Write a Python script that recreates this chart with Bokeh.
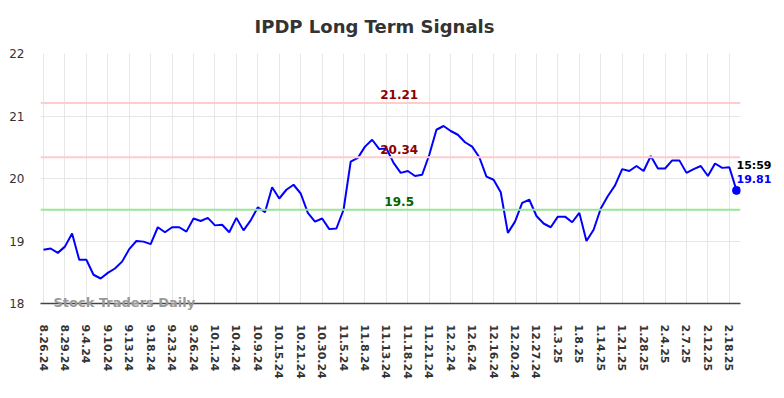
from bokeh.plotting import figure
from bokeh.models import FixedTicker, Label, Range1d, Span
from bokeh.core.properties import value
from bokeh.embed import file_html
from bokeh.resources import INLINE

# ---- data ----
values = [
    18.86, 18.88, 18.81, 18.91, 19.12, 18.70, 18.70, 18.46, 18.40, 18.49,
    18.56, 18.67, 18.87, 19.00, 18.99, 18.95, 19.22, 19.14, 19.22, 19.22,
    19.15, 19.36, 19.32, 19.37, 19.25, 19.26, 19.14, 19.37, 19.17, 19.33,
    19.54, 19.46, 19.86, 19.68, 19.82, 19.90, 19.76, 19.45, 19.31, 19.36,
    19.19, 19.20, 19.50, 20.27, 20.33, 20.51, 20.62, 20.47, 20.48, 20.25,
    20.09, 20.12, 20.04, 20.06, 20.38, 20.78, 20.84, 20.76, 20.70, 20.58,
    20.51, 20.34, 20.03, 19.98, 19.78, 19.13, 19.31, 19.61, 19.66, 19.40,
    19.28, 19.22, 19.39, 19.39, 19.30, 19.45, 19.00, 19.18, 19.52, 19.72,
    19.89, 20.15, 20.12, 20.20, 20.12, 20.36, 20.16, 20.16, 20.29, 20.29,
    20.09, 20.15, 20.20, 20.04, 20.24, 20.17, 20.18, 19.81,
]
tick_labels = [
    "8.26.24", "8.29.24", "9.4.24", "9.10.24", "9.13.24", "9.18.24", "9.23.24",
    "9.26.24", "10.1.24", "10.4.24", "10.9.24", "10.15.24", "10.21.24",
    "10.30.24", "11.5.24", "11.8.24", "11.13.24", "11.18.24", "11.21.24",
    "12.2.24", "12.6.24", "12.16.24", "12.20.24", "12.27.24", "1.3.25",
    "1.8.25", "1.14.25", "1.21.25", "1.28.25", "2.4.25", "2.7.25", "2.12.25",
    "2.18.25",
]
tick_step = 3
levels = [21.21, 20.34, 19.5]
level_labels = ["21.21", "20.34", "19.5"]
last_time = "15:59"
title_text = "IPDP Long Term Signals"
watermark = "Stock Traders Daily"

xs = list(range(len(values)))
tick_pos = [i * tick_step for i in range(len(tick_labels))]

p = figure(width=784, height=398, output_backend="svg", toolbar_location=None,
           x_range=Range1d(-0.42, len(values) - 1 + 0.56), y_range=Range1d(18, 22),
           min_border_left=40, min_border_right=44, min_border_top=53,
           min_border_bottom=95, title=title_text)
p.outline_line_color = None
p.background_fill_color = "white"
p.border_fill_color = "white"

p.title.text_font = "DejaVu Sans"
p.title.text_font_size = "18px"
p.title.text_font_style = "bold"
p.title.text_color = "#333333"
p.title.align = "left"
p.title.offset = 214
p.title.standoff = 30
p.title.vertical_align = "top"

# axes
p.xaxis.ticker = FixedTicker(ticks=tick_pos)
p.xaxis.major_label_overrides = {t: l for t, l in zip(tick_pos, tick_labels)}
p.xaxis.major_label_orientation = "vertical"
p.xaxis.major_label_text_font = "DejaVu Sans"
p.xaxis.major_label_text_font_size = "11px"
p.xaxis.major_label_text_font_style = "bold"
p.xaxis.major_label_text_color = "#333333"
p.xaxis.major_label_standoff = 15
p.xaxis.major_tick_line_color = None
p.xaxis.minor_tick_line_color = None
p.xaxis.axis_line_color = "#444444"
p.xaxis.axis_line_width = 1.5

p.yaxis.ticker = FixedTicker(ticks=[18, 19, 20, 21, 22])
p.yaxis.major_label_text_font = "DejaVu Sans"
p.yaxis.major_label_text_font_size = "12px"
p.yaxis.major_label_text_color = "#333333"
p.yaxis.major_label_standoff = 10
p.yaxis.major_tick_line_color = None
p.yaxis.minor_tick_line_color = None
p.yaxis.axis_line_color = None

p.xgrid.grid_line_color = "#e6e6e6"
p.ygrid.grid_line_color = "#e6e6e6"

# level lines
level_colors = ["#ffcccc", "#ffcccc", "#99e699"]
text_colors = ["#8b0000", "#8b0000", "#006400"]
label_x = len(values) * 0.508
for lv, lt, lc, tc in zip(levels, level_labels, level_colors, text_colors):
    p.add_layout(Span(location=lv, dimension="width", line_color=lc, line_width=2))
    p.add_layout(Label(x=label_x, y=lv, text=lt, text_align="center",
                       text_baseline="middle", y_offset=8,
                       text_font="DejaVu Sans", text_font_size="12px",
                       text_font_style="bold", text_color=tc))

# watermark (glyph on overlay level, so it is not clipped by the frame)
p.text(x=[1.4], y=[18.0], text=[watermark], text_align="left",
       text_baseline="middle", y_offset=-1.5, text_font=value("DejaVu Sans"),
       text_font_size="13px", text_font_style="bold",
       text_color="#999999", level="overlay")

# series
p.line(xs, values, line_color="#0000ff", line_width=2)
p.scatter([xs[-1]], [values[-1]], size=8, color="#0000ff")

p.text(x=[xs[-1]], y=[values[-1]], text=[last_time], text_align="left",
       text_baseline="middle", y_offset=-25, x_offset=0,
       text_font=value("DejaVu Sans"), text_font_size="11px",
       text_font_style="bold", text_color="#000000", level="overlay")
p.text(x=[xs[-1]], y=[values[-1]], text=[f"{values[-1]:.2f}"], text_align="left",
       text_baseline="middle", y_offset=-11, x_offset=0,
       text_font=value("DejaVu Sans"), text_font_size="11px",
       text_font_style="bold", text_color="#0000ff", level="overlay")

open("out.html", "w").write(file_html(p, INLINE))
